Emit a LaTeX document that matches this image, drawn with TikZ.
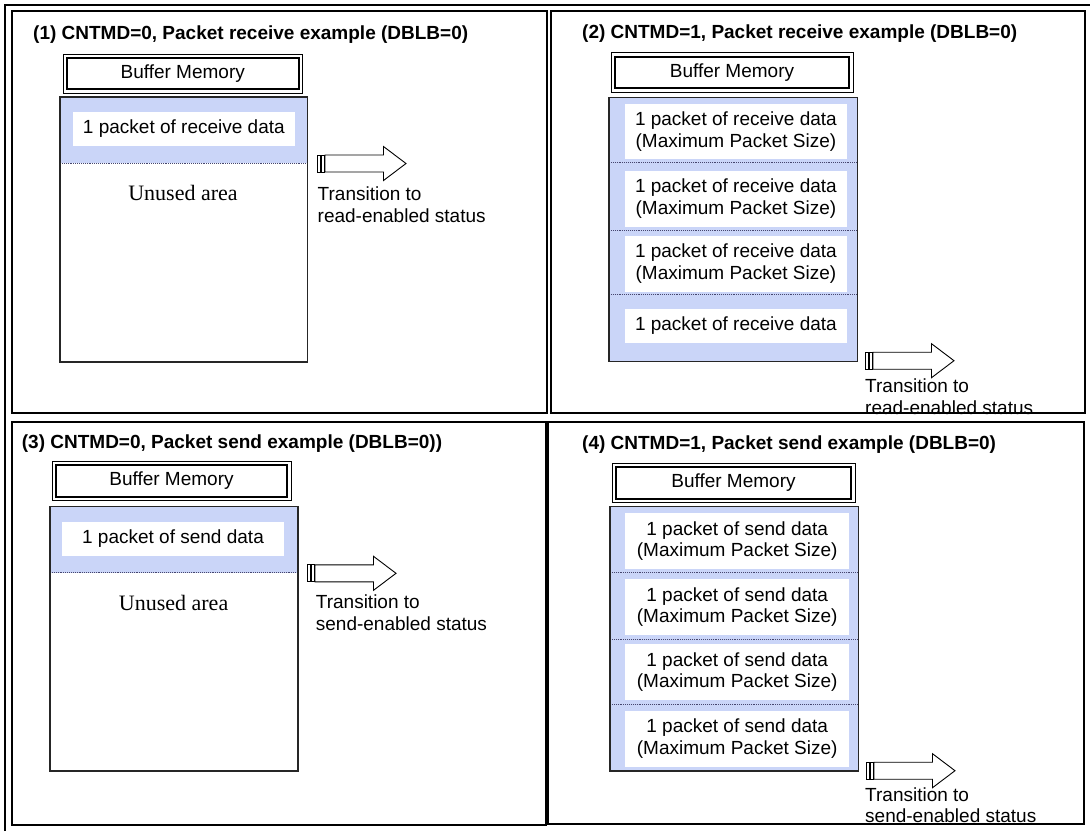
\documentclass[tikz,border=0pt]{standalone}
\usepackage{fontspec}
\setmainfont{Liberation Serif}
\setsansfont{Liberation Sans}
\definecolor{bluefill}{RGB}{202,213,248}
\definecolor{dotcol}{RGB}{70,70,110}
\newcommand{\txarrow}[3]{%
  \draw[arrowshape] (#1,#2) ++(0,-8.5) rectangle ++(3,17);
  \draw[arrowshape] (#1,#2) ++(4,-8.5) rectangle ++(3,17);
  \draw[arrowshape] (#1,#2) ++(8,-8.5) -- ++(58.5,0) -- ++(0,-8.5) -- ++(22.5,17) -- ++(-22.5,17) -- ++(0,-8.5) -- ++(-58.5,0) -- cycle;
  \coordinate (#3) at (#1,#2);
}
\begin{document}
\begin{tikzpicture}[x=1pt,y=-1pt,
  every node/.style={inner sep=0pt, font=\sffamily\fontsize{19}{21.7}\selectfont},
  panel/.style={draw=black, line width=1.2pt},
  title/.style={anchor=west, font=\sffamily\bfseries\fontsize{19}{21.7}\selectfont},
  bmouter/.style={draw=black, line width=0.9pt},
  bminner/.style={draw=black, line width=2pt},
  membox/.style={draw=black!85, line width=1.5pt},
  dotline/.style={draw=dotcol, densely dotted, line width=0.9pt},
  wbox/.style={fill=white, align=center},
  unused/.style={font=\rmfamily\fontsize{22}{24}\selectfont},
  trans/.style={anchor=west, align=left},
  arrowshape/.style={draw=black, line width=0.9pt, fill=white}
]
\useasboundingbox (0,0) rectangle (1090,831);
\fill[white] (0,0) rectangle (1090,831);

% outer frame
\draw[line width=2.5pt] (5,831) -- (5,5) -- (1090,5);

% panels
\draw[panel] (12,11) rectangle (547,413);
\draw[panel] (551,11) rectangle (1085,413);
\draw[panel] (12,422) rectangle (546,825);
\draw[panel] (548,422) rectangle (1084,824);

% ---------- Panel 1 ----------
\node[title] (t1) at (33,35) {(1) CNTMD=0, Packet receive example (DBLB=0)};
\draw[bmouter] (63,54) rectangle (302.5,93.3);
\draw[bminner] (67,58) rectangle (298.5,89.3);
\node (bm1) at (182.75,73.6) {Buffer Memory};
\fill[bluefill] (60,97) rectangle (307.7,163);
\draw[dotline] (60,163) -- (307.7,163);
\draw[membox] (60,97) rectangle (307.7,362);
\node[wbox, minimum width=221.7pt, minimum height=33.7pt] (d1) at (183.85,128.85) {1 packet of receive data};
\node[unused] (u1) at (183,193) {Unused area};
\txarrow{317}{163.5}{a1}
\node[trans] (tr1) at (317.5,204.5) {Transition to\\read-enabled status};

% ---------- Panel 2 ----------
\node[title] (t2) at (582,34) {(2) CNTMD=1, Packet receive example (DBLB=0)};
\draw[bmouter] (611,52.7) rectangle (853,92.3);
\draw[bminner] (615,56.7) rectangle (849,88.3);
\node (bm2) at (732,72.5) {Buffer Memory};
\fill[bluefill] (609,97.3) rectangle (857.5,361.7);
\draw[dotline] (609,162.7) -- (857.5,162.7);
\draw[dotline] (609,230) -- (857.5,230);
\draw[dotline] (609,294.7) -- (857.5,294.7);
\draw[membox] (609,97.3) rectangle (857.5,361.7);
\node[wbox, minimum width=221.8pt, minimum height=55.3pt] (d21) at (735.9,131.65) {1 packet of receive data\\(Maximum Packet Size)};
\node[wbox, minimum width=221.8pt, minimum height=55.7pt] (d22) at (735.9,198.85) {1 packet of receive data\\(Maximum Packet Size)};
\node[wbox, minimum width=221.8pt, minimum height=55.7pt] (d23) at (735.9,263.85) {1 packet of receive data\\(Maximum Packet Size)};
\node[wbox, minimum width=221.8pt, minimum height=33.4pt] (d24) at (735.9,326) {1 packet of receive data};
\txarrow{865}{360.7}{a2}
\node[trans] (tr2) at (865,396.7) {Transition to\\read-enabled status};

% ---------- Panel 3 ----------
\node[title] (t3) at (21.7,443.3) {(3) CNTMD=0, Packet send example (DBLB=0))};
\draw[bmouter] (52,461) rectangle (291,500.7);
\draw[bminner] (56,465) rectangle (287,496.7);
\node (bm3) at (171.5,480.9) {Buffer Memory};
\fill[bluefill] (50,506.7) rectangle (298,572.7);
\draw[dotline] (50,572.7) -- (298,572.7);
\draw[membox] (50,506.7) rectangle (298,771);
\node[wbox, minimum width=222pt, minimum height=33.4pt] (d3) at (173,539) {1 packet of send data};
\node[unused] (u3) at (173.6,602.7) {Unused area};
\txarrow{307}{573.3}{a3}
\node[trans] (tr3) at (315.7,613) {Transition to\\send-enabled status};

% ---------- Panel 4 ----------
\node[title] (t4) at (582,445) {(4) CNTMD=1, Packet send example (DBLB=0)};
\draw[bmouter] (612,463.3) rectangle (855,502.7);
\draw[bminner] (616,467.3) rectangle (851,498.7);
\node (bm4) at (733.5,483) {Buffer Memory};
\fill[bluefill] (610,506.7) rectangle (858.7,771);
\draw[dotline] (610,572.3) -- (858.7,572.3);
\draw[dotline] (610,639.3) -- (858.7,639.3);
\draw[dotline] (610,704) -- (858.7,704);
\draw[membox] (610,506.7) rectangle (858.7,771);
\node[wbox, minimum width=223.6pt, minimum height=55.7pt] (d41) at (737.2,541.15) {1 packet of send data\\(Maximum Packet Size)};
\node[wbox, minimum width=223.6pt, minimum height=55.7pt] (d42) at (737.2,607.15) {1 packet of send data\\(Maximum Packet Size)};
\node[wbox, minimum width=223.6pt, minimum height=56pt] (d43) at (737.2,672) {1 packet of send data\\(Maximum Packet Size)};
\node[wbox, minimum width=223.6pt, minimum height=55.7pt] (d44) at (737.2,738.85) {1 packet of send data\\(Maximum Packet Size)};
\txarrow{866}{770.7}{a4}
\node[trans] (tr4) at (865,805.2) {Transition to\\send-enabled status};
\end{tikzpicture}
\end{document}
